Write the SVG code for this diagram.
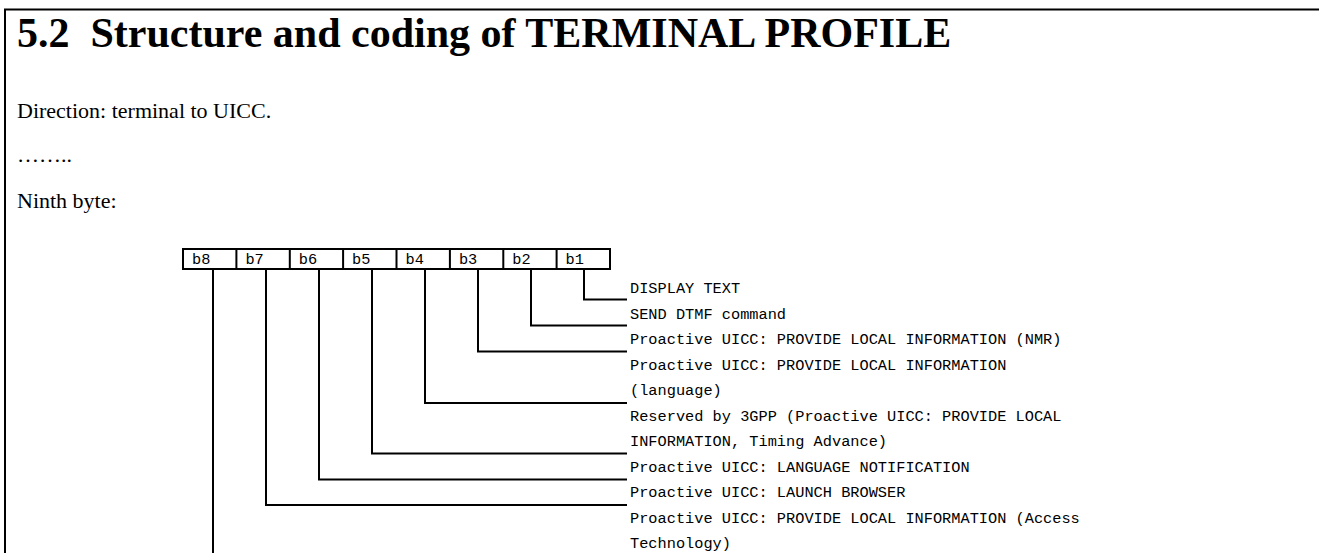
<svg xmlns="http://www.w3.org/2000/svg" width="1319" height="553" viewBox="0 0 1319 553">
<style>
.title{font-family:"Liberation Serif","Times New Roman",serif;font-weight:bold;font-size:42px;fill:#000}
.body{font-family:"Liberation Serif","Times New Roman",serif;font-size:22px;fill:#000}
.mono{font-family:"Liberation Mono","Courier New",monospace;font-size:15.3px;fill:#000}
.ln{stroke:#000;stroke-width:2;fill:none}
.box{stroke:#000;stroke-width:2;fill:#fff}
</style>
<rect width="1319" height="553" fill="#fff"/>
<g id="frame">
<path class="ln" d="M5 553 V9.5 H1319"/>
</g>
<g id="heading">
<text class="title" x="17" y="47" xml:space="preserve">5.2  Structure and coding of TERMINAL PROFILE</text>
<text class="body" x="17" y="118">Direction: terminal to UICC.</text>
<text class="body" x="17" y="162">……..</text>
<text class="body" x="17" y="208">Ninth byte:</text>
</g>
<g id="bits">
<rect class="box" x="183" y="249" width="427" height="20"/>
<path class="ln" d="M236.4 249v20M289.8 249v20M343.1 249v20M396.5 249v20M449.9 249v20M503.3 249v20M556.6 249v20"/>
<text class="mono" x="192" y="264">b8</text>
<text class="mono" x="245.4" y="264">b7</text>
<text class="mono" x="298.8" y="264">b6</text>
<text class="mono" x="352.1" y="264">b5</text>
<text class="mono" x="405.5" y="264">b4</text>
<text class="mono" x="458.9" y="264">b3</text>
<text class="mono" x="512.3" y="264">b2</text>
<text class="mono" x="565.6" y="264">b1</text>
</g>
<g id="connectors">
<path class="ln" d="M584 269 V299.5 H627"/>
<path class="ln" d="M531 269 V325.5 H627"/>
<path class="ln" d="M478 269 V351.5 H627"/>
<path class="ln" d="M425 269 V403 H627"/>
<path class="ln" d="M372 269 V453.5 H627"/>
<path class="ln" d="M319 269 V479.5 H627"/>
<path class="ln" d="M266 269 V505 H627"/>
<path class="ln" d="M213 269 V553"/>
</g>
<g id="labels">
<text class="mono" x="630" y="293">DISPLAY TEXT</text>
<text class="mono" x="630" y="318.5">SEND DTMF command</text>
<text class="mono" x="630" y="344">Proactive UICC: PROVIDE LOCAL INFORMATION (NMR)</text>
<text class="mono" x="630" y="369.5">Proactive UICC: PROVIDE LOCAL INFORMATION</text>
<text class="mono" x="630" y="395">(language)</text>
<text class="mono" x="630" y="420.5">Reserved by 3GPP (Proactive UICC: PROVIDE LOCAL</text>
<text class="mono" x="630" y="446">INFORMATION, Timing Advance)</text>
<text class="mono" x="630" y="471.5">Proactive UICC: LANGUAGE NOTIFICATION</text>
<text class="mono" x="630" y="497">Proactive UICC: LAUNCH BROWSER</text>
<text class="mono" x="630" y="522.5">Proactive UICC: PROVIDE LOCAL INFORMATION (Access</text>
<text class="mono" x="630" y="548">Technology)</text>
</g>
</svg>
